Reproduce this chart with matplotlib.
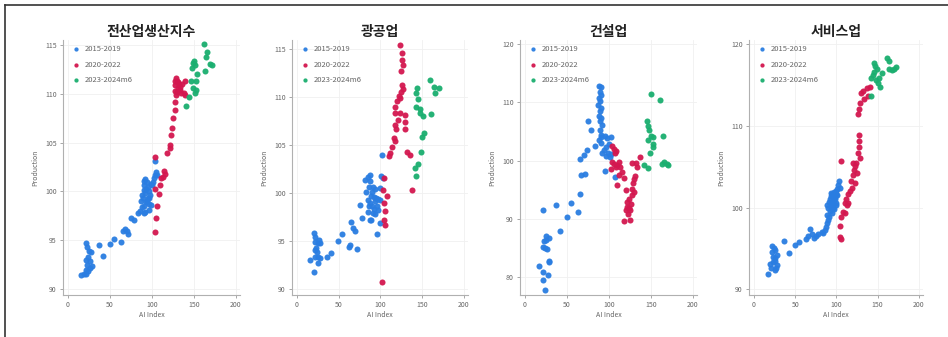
import matplotlib
matplotlib.use('Agg')
import matplotlib.pyplot as plt
from matplotlib.lines import Line2D

plt.rcParams['font.family'] = ['Noto Sans CJK KR', 'DejaVu Sans']

# legend / colours
period_labels = ['2015-2019', '2020-2022', '2023-2024m6']
period_colors = ['#2a7de1', '#d3174f', '#1aae6f']

panel_titles = ['전산업생산지수', '광공업', '건설업', '서비스업']

# (AI Index, Production) pairs
all_2015_2019 = [
    (16, 91.4), (19, 91.5), (21, 91.6), (22, 92.0), (23, 92.5), (22, 93.0), (26, 92.2), (28, 92.4),
    (21, 94.7), (23, 94.3), (25, 93.9), (27, 93.8), (24, 93.3), (26, 92.9), (24, 91.9),
    (37, 94.5), (42, 93.4), (50, 94.6), (55, 95.1), (63, 94.8), (65, 95.9), (68, 96.2), (70, 96.0),
    (72, 95.6), (75, 97.3), (79, 97.1), (84, 97.8), (86, 98.0), (88, 98.4),
    (87, 99.0), (89, 99.3), (88, 99.6), (90, 100.1), (90, 100.7), (91, 101.1), (92, 99.8), (93, 100.3),
    (94, 99.0), (95, 100.5), (95, 99.3), (96, 98.7), (97, 98.1), (93, 98.9), (91, 98.5), (92, 101.3),
    (94, 101.0), (96, 100.0), (98, 99.6), (99, 100.8), (100, 100.7), (101, 101.0), (103, 101.4),
    (104, 101.7), (106, 101.7), (105, 102.0), (104, 103.1), (90, 97.8), (97, 99.3), (92, 97.9), (99, 98.6),
]
all_2020_2022 = [
    (104, 95.8), (105, 97.3), (106, 98.5), (104, 100.2), (109, 99.7), (110, 100.7), (111, 101.4),
    (113, 101.5), (114, 102.1), (115, 101.8), (104, 103.5), (118, 103.9), (121, 104.4), (121, 104.8),
    (123, 105.8), (124, 106.5), (125, 107.5), (127, 108.3), (127, 109.2), (128, 110.3), (129, 111.6),
    (128, 110.9), (130, 110.2), (130, 111.3), (131, 110.6), (129, 109.9), (132, 111.0), (133, 110.4),
    (131, 111.2), (134, 110.7), (135, 110.1), (136, 111.0), (128, 111.3), (138, 110.1), (139, 111.3),
    (140, 109.9),
]
all_2023_2024 = [
    (141, 108.7), (144, 109.7), (151, 110.1), (149, 110.6), (147, 111.3), (153, 111.3), (152, 110.4),
    (148, 112.6), (150, 113.3), (151, 112.9), (149, 113.1), (162, 115.1), (165, 113.8), (163, 112.3),
    (169, 113.0), (172, 112.9), (166, 114.3), (154, 112.0),
]

mining_2015_2019 = [
    (15, 93.0), (20, 91.8), (21, 93.4), (25, 93.4), (25, 92.7), (20, 95.8), (22, 95.4), (21, 94.9),
    (25, 94.8), (23, 94.3), (28, 94.8), (24, 93.9), (27, 93.2), (22, 94.1), (26, 95.1),
    (36, 93.4), (41, 93.8), (49, 95.0), (54, 95.7), (62, 94.4), (64, 94.6), (67, 96.4), (65, 97.0),
    (70, 96.1), (72, 94.2), (75, 98.8), (78, 97.4), (83, 100.1), (82, 101.4),
    (85, 101.7), (87, 101.9), (88, 101.2), (86, 100.6), (85, 99.3), (88, 99.0), (86, 98.7), (85, 98.0),
    (89, 99.7), (90, 100.1), (92, 99.6), (93, 99.2), (95, 99.5), (96, 98.7), (87, 97.2), (89, 97.2),
    (91, 97.9), (94, 100.4), (97, 99.4), (99, 100.5), (101, 101.8), (103, 101.6), (102, 104.0),
    (96, 95.7), (99, 96.9), (92, 98.3), (90, 98.6), (94, 97.8), (91, 100.6), (97, 98.2), (100, 99.3),
]
mining_2020_2022 = [
    (124, 115.4), (126, 114.6), (126, 113.8), (125, 112.7), (127, 110.8), (125, 110.5), (120, 109.6),
    (118, 108.9), (118, 108.3), (123, 108.3), (129, 108.1), (117, 107.1), (119, 106.7), (129, 107.4),
    (129, 106.6), (116, 105.7), (117, 105.4), (111, 104.2), (110, 103.8), (132, 104.3), (136, 104.0),
    (138, 100.3), (104, 101.6), (103, 100.3), (108, 99.7), (105, 98.1), (104, 97.2), (106, 96.7),
    (102, 90.7), (126, 111.2), (124, 109.9), (122, 110.1), (127, 113.3), (121, 107.6), (114, 104.8),
    (104, 99.0),
]
mining_2023_2024 = [
    (159, 111.7), (164, 111.0), (170, 110.9), (165, 110.4), (143, 110.4), (144, 110.9), (145, 109.8),
    (143, 108.9), (147, 108.7), (151, 108.0), (161, 108.2), (150, 105.8), (152, 106.2), (149, 104.3),
    (145, 103.0), (142, 102.6), (143, 101.8), (148, 108.3),
]

constr_2015_2019 = [
    (17, 82.0), (22, 81.0), (22, 79.6), (24, 77.9), (22, 91.6), (25, 86.5), (28, 86.8), (24, 85.0),
    (28, 82.6), (29, 82.8), (23, 86.2), (26, 84.9), (21, 85.3), (27, 80.5), (25, 87.1),
    (37, 92.5), (42, 88.0), (50, 90.3), (55, 92.8), (63, 91.2), (66, 94.3), (67, 97.6), (71, 97.8),
    (66, 100.3), (70, 101.0), (74, 101.8), (75, 106.8), (79, 105.3), (83, 102.5),
    (88, 112.8), (90, 112.7), (89, 111.8), (88, 110.7), (87, 109.6), (89, 108.5), (88, 107.6),
    (90, 107.3), (89, 106.8), (89, 105.3), (91, 104.5), (95, 104.2), (98, 103.9), (102, 104.0),
    (91, 103.0), (92, 101.3), (96, 100.8), (99, 101.3), (101, 100.6), (95, 98.2), (107, 97.2),
    (89, 110.2), (91, 109.1), (90, 111.3), (94, 101.9), (97, 102.4), (100, 102.9), (103, 101.1),
    (88, 103.6), (92, 106.1), (90, 104.0),
]
constr_2020_2022 = [
    (104, 102.5), (106, 102.0), (107, 101.3), (108, 101.7), (104, 99.8), (106, 99.4), (110, 99.3),
    (112, 99.8), (113, 99.0), (112, 97.6), (110, 95.9), (118, 97.1), (120, 95.0), (127, 99.6),
    (132, 99.6), (129, 96.2), (130, 96.8), (128, 94.1), (130, 94.6), (121, 93.0), (122, 92.1),
    (120, 91.6), (124, 91.9), (123, 90.8), (125, 91.5), (118, 89.7), (125, 89.9), (137, 100.6),
    (134, 99.0), (126, 92.6), (124, 93.5), (127, 95.2), (115, 98.0), (108, 99.0), (102, 98.6),
    (131, 97.4),
]
constr_2023_2024 = [
    (150, 111.4), (161, 110.5), (145, 106.8), (146, 105.9), (148, 105.2), (150, 104.2), (153, 104.0),
    (147, 103.6), (152, 102.9), (149, 101.3), (153, 102.3), (165, 104.2), (142, 99.2), (146, 98.8),
    (163, 99.4), (166, 99.8), (169, 99.4), (171, 99.2),
]

service_2015_2019 = [
    (17, 91.9), (21, 92.6), (23, 93.3), (25, 93.8), (22, 94.6), (24, 95.1), (27, 92.6), (26, 93.5),
    (28, 94.2), (23, 94.0), (20, 93.1), (25, 92.3), (26, 94.8), (22, 95.3), (28, 93.0),
    (37, 95.9), (42, 94.4), (50, 95.4), (55, 95.8), (63, 96.2), (65, 96.5), (68, 97.4), (70, 96.8),
    (73, 96.3), (75, 96.5), (78, 96.8), (82, 97.0), (84, 96.9), (86, 97.3),
    (88, 98.1), (89, 99.1), (90, 99.9), (91, 100.7), (92, 101.0), (93, 101.4), (95, 101.6), (96, 100.8),
    (97, 101.9), (98, 101.3), (99, 100.3), (100, 102.0), (101, 101.5), (102, 102.8), (103, 103.2),
    (104, 102.4), (90, 98.5), (92, 99.6), (94, 100.2), (96, 100.0), (98, 101.0), (87, 97.6), (91, 98.9),
    (93, 100.5), (95, 99.3), (97, 99.8), (99, 101.7), (100, 100.6), (89, 100.3), (94, 101.8), (101, 102.3),
]
service_2020_2022 = [
    (104, 96.4), (105, 96.2), (104, 97.7), (105, 98.9), (105, 105.7), (108, 99.5), (110, 99.3),
    (110, 100.5), (112, 101.1), (114, 101.6), (113, 100.3), (114, 100.5), (119, 102.4), (118, 103.3),
    (120, 104.0), (121, 104.6), (123, 105.1), (120, 105.5), (124, 105.4), (126, 106.7), (127, 107.4),
    (127, 108.2), (127, 108.9), (126, 111.4), (127, 112.1), (129, 112.8), (130, 114.0), (132, 114.2),
    (134, 113.3), (137, 114.6), (138, 113.6), (141, 114.8), (128, 106.1), (125, 104.2), (116, 102.0),
    (122, 103.0),
]
service_2023_2024 = [
    (142, 113.7), (145, 117.7), (147, 117.3), (142, 115.9), (144, 116.2), (146, 116.6), (148, 115.6),
    (150, 115.3), (153, 114.8), (152, 115.9), (155, 116.5), (149, 116.9), (161, 118.3), (164, 117.9),
    (164, 117.0), (167, 116.8), (170, 117.0), (172, 117.2),
]

panel_data = [
    [all_2015_2019, all_2020_2022, all_2023_2024],
    [mining_2015_2019, mining_2020_2022, mining_2023_2024],
    [constr_2015_2019, constr_2020_2022, constr_2023_2024],
    [service_2015_2019, service_2020_2022, service_2023_2024],
]
y_ticks = [
    [90, 95, 100, 105, 110, 115],
    [90, 95, 100, 105, 110, 115],
    [80, 90, 100, 110, 120],
    [90, 100, 110, 120],
]
y_limits = [(89.4, 115.5), (89.4, 115.9), (77.0, 120.7), (89.3, 120.5)]

W, H = 948, 337
fig = plt.figure(figsize=(W / 100, H / 100), dpi=100)
fig.patch.set_facecolor('white')

# axes boxes in pixels: left, right
boxes = [(63, 240), (292, 468), (520, 697), (749, 923)]
top_px, bottom_px = 40, 295

for i, (l, r) in enumerate(boxes):
    ax = fig.add_axes([l / W, 1 - bottom_px / H, (r - l) / W, (bottom_px - top_px) / H])
    for pts, lab, col in zip(panel_data[i], period_labels, period_colors):
        xs = [p[0] for p in pts]
        ys = [p[1] for p in pts]
        ax.scatter(xs, ys, s=19, color=col, label=lab, linewidths=0, alpha=0.95, zorder=3)

    ax.set_xlim(-6, 205)
    ax.set_ylim(*y_limits[i])
    ax.set_xticks([0, 50, 100, 150, 200])
    ax.set_yticks(y_ticks[i])
    ax.grid(True, color='#f0f0f0', linewidth=0.6, zorder=0)
    for side in ['top', 'right']:
        ax.spines[side].set_visible(False)
    for side in ['left', 'bottom']:
        ax.spines[side].set_color('#b0b0b0')
        ax.spines[side].set_linewidth(0.8)
    ax.tick_params(axis='both', labelsize=5, colors='#999999', labelcolor='#666666',
                   length=2.5, width=0.6, direction='out', pad=2)
    ax.set_xlabel('AI Index', fontsize=5, color='#666666', labelpad=1)
    ax.set_ylabel('Production', fontsize=5, color='#666666', labelpad=4)
    ax.set_title(panel_titles[i], fontsize=10, fontweight='bold', color='#222222', pad=3)
    leg = ax.legend(loc='upper left', frameon=False, fontsize=5.5, markerscale=0.7,
                    handletextpad=0.2, borderaxespad=0.3, labelspacing=0.95, borderpad=0.4)
    for t in leg.get_texts():
        t.set_color('#666666')

# screenshot frame on top and left
fig.add_artist(Line2D([5 / W, 1], [1 - 5 / H, 1 - 5 / H], transform=fig.transFigure,
                      color='#333333', linewidth=1.2))
fig.add_artist(Line2D([5 / W, 5 / W], [0, 1 - 5 / H], transform=fig.transFigure,
                      color='#333333', linewidth=1.2))

fig.savefig('out.png', dpi=100)
